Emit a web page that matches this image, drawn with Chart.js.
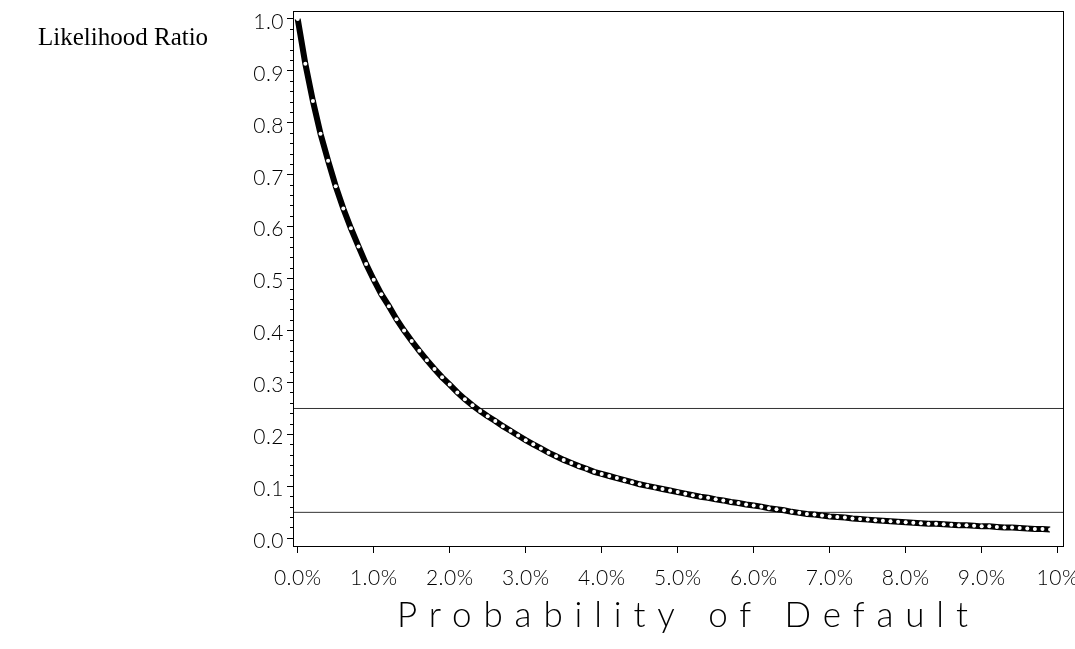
<!DOCTYPE html>
<html><head><meta charset="utf-8">
<script src="https://cdn.jsdelivr.net/npm/chart.js@4.4.1/dist/chart.umd.min.js"></script>
<style>html,body{margin:0;padding:0;background:#fff;} #c{display:block;}</style>
</head><body>
<canvas id="c" width="1075" height="649"></canvas>
<script>
// Probability of default (%)
const pd = [0.0,0.1,0.2,0.3,0.4,0.5,0.6,0.7,0.8,0.9,
  1.0,1.1,1.2,1.3,1.4,1.5,1.6,1.7,1.8,1.9,
  2.0,2.1,2.2,2.3,2.4,2.5,2.6,2.7,2.8,2.9,
  3.0,3.1,3.2,3.3,3.4,3.5,3.6,3.7,3.8,3.9,
  4.0,4.1,4.2,4.3,4.4,4.5,4.6,4.7,4.8,4.9,
  5.0,5.1,5.2,5.3,5.4,5.5,5.6,5.7,5.8,5.9,
  6.0,6.1,6.2,6.3,6.4,6.5,6.6,6.7,6.8,6.9,
  7.0,7.1,7.2,7.3,7.4,7.5,7.6,7.7,7.8,7.9,
  8.0,8.1,8.2,8.3,8.4,8.5,8.6,8.7,8.8,8.9,
  9.0,9.1,9.2,9.3,9.4,9.5,9.6,9.7,9.8,9.9];
// Likelihood ratio
const lr = [1.000,0.914,0.842,0.779,0.727,0.678,0.635,0.597,0.562,0.528,
  0.498,0.470,0.447,0.422,0.400,0.380,0.361,0.343,0.326,0.310,
  0.296,0.281,0.268,0.256,0.245,0.235,0.226,0.216,0.207,0.198,
  0.189,0.181,0.173,0.165,0.158,0.151,0.145,0.139,0.134,0.128,
  0.124,0.120,0.116,0.112,0.108,0.104,0.101,0.098,0.095,0.092,
  0.089,0.086,0.083,0.080,0.078,0.075,0.073,0.070,0.068,0.065,
  0.063,0.061,0.058,0.056,0.054,0.051,0.049,0.047,0.046,0.044,
  0.042,0.041,0.040,0.038,0.037,0.036,0.035,0.034,0.033,0.032,
  0.031,0.030,0.029,0.028,0.028,0.027,0.026,0.025,0.025,0.024,
  0.023,0.023,0.022,0.021,0.021,0.020,0.019,0.018,0.018,0.017];
const refLevels = [0.25, 0.05];
const xTicks = [0,1,2,3,4,5,6,7,8,9,10];
const xTickLabels = ['0.0%','1.0%','2.0%','3.0%','4.0%','5.0%','6.0%','7.0%','8.0%','9.0%','10%'];
const yTicks = [0.0,0.1,0.2,0.3,0.4,0.5,0.6,0.7,0.8,0.9,1.0];
const yTickLabels = ['0.0','0.1','0.2','0.3','0.4','0.5','0.6','0.7','0.8','0.9','1.0'];
const yMinorTicks = [0.02,0.04,0.06,0.08,0.12,0.14,0.16,0.18,0.22,0.24,0.26,0.28,0.32,0.34,0.36,0.38,
  0.42,0.44,0.46,0.48,0.52,0.54,0.56,0.58,0.62,0.64,0.66,0.68,0.72,0.74,0.76,0.78,0.82,0.84,0.86,0.88,
  0.92,0.94,0.96,0.98];
const yLabel = 'Likelihood Ratio';
const xTitle = 'Probability of Default';
const xRange = [-0.062, 10.07];
const yRange = [-0.0148, 1.0154];

const tickFamily = "Lato, Roboto, sans-serif";

function align(v){ return Math.round(v - 0.5) + 0.5; }

const decor = {
  id: 'decor',
  beforeDraw(chart){ chart.ctx.letterSpacing = '0.5px'; },
  afterDraw(chart){
    const {ctx, chartArea: a, scales} = chart;
    ctx.save();
    ctx.letterSpacing = '0px';
    ctx.strokeStyle = '#000';
    ctx.lineWidth = 1;
    ctx.strokeRect(align(a.left), align(a.top), align(a.right) - align(a.left), align(a.bottom) - align(a.top));
    ctx.beginPath();
    for (const v of yMinorTicks){
      const y = align(scales.y.getPixelForValue(v));
      ctx.moveTo(align(a.left) - 3.5, y);
      ctx.lineTo(align(a.left), y);
    }
    ctx.stroke();
    ctx.fillStyle = '#000';
    ctx.textAlign = 'left';
    ctx.textBaseline = 'alphabetic';
    ctx.font = "25px 'Liberation Serif', 'Times New Roman', serif";
    ctx.fillText(yLabel, 38, 45);
    ctx.font = "300 35px " + tickFamily;
    const w = ctx.measureText(xTitle).width;
    const sp = (571 - w) / (xTitle.length - 1);
    ctx.letterSpacing = sp.toFixed(2) + 'px';
    ctx.fillText(xTitle, 397, 627);
    ctx.restore();
  }
};

const datasets = [{
  data: pd.map((p, i) => ({x: p, y: lr[i]})),
  borderColor: '#000',
  borderWidth: 6,
  pointRadius: 2,
  pointBorderWidth: 0,
  pointBackgroundColor: '#fff',
  tension: 0,
  order: 0
}];
refLevels.forEach(l => datasets.push({
  data: [{x: xRange[0], y: l}, {x: xRange[1], y: l}],
  borderColor: '#333',
  borderWidth: 1,
  pointRadius: 0,
  order: 1
}));

new Chart(document.getElementById('c'), {
  type: 'line',
  data: { datasets },
  plugins: [decor],
  options: {
    responsive: false,
    animation: false,
    events: [],
    layout: { padding: { top: 11, right: 12, left: 0, bottom: 0 } },
    plugins: { legend: { display: false }, tooltip: { enabled: false }, title: { display: false } },
    scales: {
      x: {
        type: 'linear',
        min: xRange[0], max: xRange[1],
        afterBuildTicks: s => { s.ticks = xTicks.map(v => ({value: v})); },
        afterFit: s => { s.height = 103; s.paddingLeft = 0; s.paddingRight = 0; },
        grid: { drawOnChartArea: false, tickLength: 7, color: '#000', tickColor: '#000' },
        border: { display: true, color: '#000', width: 1 },
        ticks: {
          color: '#000', padding: 13, maxRotation: 0, autoSkip: false,
          font: { family: tickFamily, size: 21, weight: '300' },
          callback: (v, i) => xTickLabels[i]
        }
      },
      y: {
        type: 'linear',
        min: yRange[0], max: yRange[1],
        afterBuildTicks: s => { s.ticks = yTicks.map(v => ({value: v})); },
        afterFit: s => { s.width = 293; s.paddingTop = 0; s.paddingBottom = 0; },
        grid: { drawOnChartArea: false, tickLength: 6, color: '#000', tickColor: '#000' },
        border: { display: true, color: '#000', width: 1 },
        ticks: {
          color: '#000', padding: 3, labelOffset: 3, autoSkip: false,
          font: { family: tickFamily, size: 21, weight: '300' },
          callback: (v, i) => yTickLabels[i]
        }
      }
    }
  }
});
</script>
</body></html>
